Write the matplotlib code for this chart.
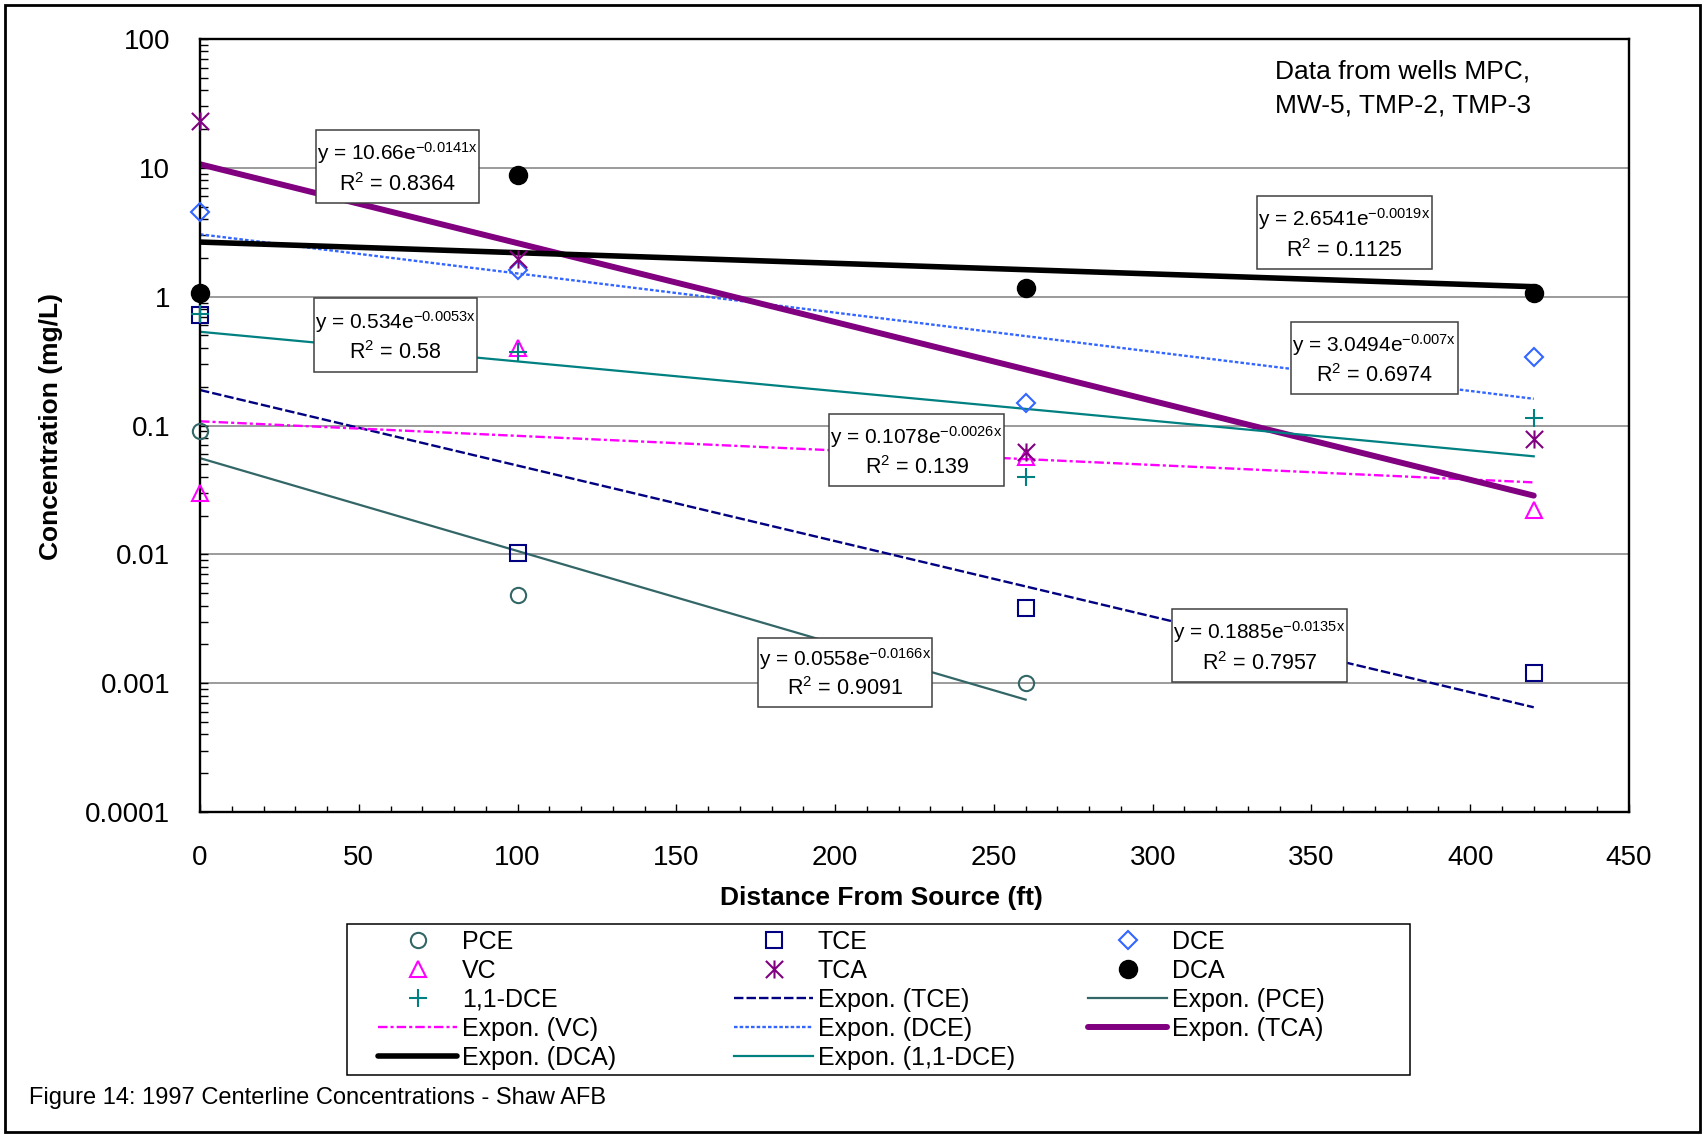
import numpy as np
import matplotlib
matplotlib.use("Agg")
import matplotlib.pyplot as plt
from matplotlib.path import Path
from matplotlib.patches import Rectangle
from matplotlib.ticker import MultipleLocator, LogLocator, NullFormatter

plt.rcParams['font.family'] = ['Liberation Sans', 'DejaVu Sans']
plt.rcParams['mathtext.fontset'] = 'custom'
plt.rcParams['mathtext.rm'] = 'Liberation Sans'
plt.rcParams['mathtext.it'] = 'Liberation Sans:italic'

# distance from source (ft)
dist = [0, 100, 260, 420]
dist_pce = [0, 100, 260]

# concentrations (mg/L)
pce = [0.09, 0.0048, 0.001]
tce = [0.72, 0.0103, 0.0038, 0.0012]
dce = [4.56, 1.6, 0.15, 0.34]
vc = [0.030, 0.40, 0.057, 0.022]
tca = [23.2, 1.95, 0.062, 0.078]
dca = [1.06, 8.8, 1.17, 1.06]
dce11 = [0.73, 0.37, 0.040, 0.115]

# exponential trendlines y = a*exp(b*x), as printed on the chart
trend_names = ['TCE', 'PCE', 'VC', 'DCE', 'TCA', 'DCA', '1,1-DCE']
trend_a = [0.1885, 0.0558, 0.1078, 3.0494, 10.66, 2.6541, 0.534]
trend_b = [-0.0135, -0.0166, -0.0026, -0.007, -0.0141, -0.0019, -0.0053]
trend_r2 = [0.7957, 0.9091, 0.139, 0.6974, 0.8364, 0.1125, 0.58]

ytick_vals = [0.0001, 0.001, 0.01, 0.1, 1, 10, 100]
ytick_labels = ['0.0001', '0.001', '0.01', '0.1', '1', '10', '100']

W, H = 1705, 1135


def fx(x):
    return x / W


def fy(y):
    return 1 - y / H


fig = plt.figure(figsize=(W / 100, H / 100), dpi=100)
ax = fig.add_axes([fx(200), fy(812), (1629 - 200) / W, (812 - 39) / H])

star = Path([(-1, -1), (1, 1), (-1, 1), (1, -1), (0, -1.05), (0, 1.05)],
            [Path.MOVETO, Path.LINETO, Path.MOVETO, Path.LINETO, Path.MOVETO, Path.LINETO])

pts = {}
pts['PCE'] = ax.plot(dist_pce, pce, ls='none', marker='o', ms=11, mfc='none', mec='#336666', mew=1.5,
                     clip_on=False, zorder=3, label='PCE')[0]
pts['TCE'] = ax.plot(dist, tce, ls='none', marker='s', ms=11, mfc='none', mec='#000080', mew=1.5,
                     clip_on=False, zorder=3, label='TCE')[0]
pts['DCE'] = ax.plot(dist, dce, ls='none', marker='D', ms=9.5, mfc='none', mec='#3366FF', mew=1.5,
                     clip_on=False, zorder=3, label='DCE')[0]
pts['VC'] = ax.plot(dist, vc, ls='none', marker='^', ms=12, mfc='none', mec='#FF00FF', mew=1.5,
                    clip_on=False, zorder=3, label='VC')[0]
pts['TCA'] = ax.plot(dist, tca, ls='none', marker=star, ms=13, mfc='none', mec='#800080', mew=1.5,
                     clip_on=False, zorder=3, label='TCA')[0]
pts['DCA'] = ax.plot(dist, dca, ls='none', marker='o', ms=13, mfc='black', mec='black',
                     clip_on=False, zorder=3, label='DCA')[0]
pts['1,1-DCE'] = ax.plot(dist, dce11, ls='none', marker='+', ms=13, mec='#008080', mew=1.5,
                         clip_on=False, zorder=3, label='1,1-DCE')[0]

line_styles = {
    'TCE': dict(color='#000080', lw=1.7, dashes=(4, 1.3)),
    'PCE': dict(color='#336666', lw=1.6),
    'VC': dict(color='#FF00FF', lw=1.7, dashes=(4, 1.3, 1.3, 1.3)),
    'DCE': dict(color='#3366FF', lw=1.7, dashes=(1.5, 0.9)),
    'TCA': dict(color='#800080', lw=4.3, solid_capstyle='round'),
    'DCA': dict(color='black', lw=4.0, solid_capstyle='round'),
    '1,1-DCE': dict(color='#008080', lw=1.6),
}
x_ranges = {'PCE': dist_pce}

trends = {}
for name, a, b in zip(trend_names, trend_a, trend_b):
    xr = x_ranges.get(name, dist)
    xs = np.linspace(min(xr), max(xr), 60)
    trends[name] = ax.plot(xs, a * np.exp(b * xs), zorder=2, label='Expon. (%s)' % name,
                           **line_styles[name])[0]

ax.set_xlim(0, 450)
ax.set_yscale('log')
ax.set_ylim(1e-4, 100)
ax.xaxis.set_major_locator(MultipleLocator(50))
ax.xaxis.set_minor_locator(MultipleLocator(10))
ax.set_yticks(ytick_vals)
ax.set_yticklabels(ytick_labels)
ax.yaxis.set_minor_locator(LogLocator(base=10, subs=np.arange(2, 10)))
ax.yaxis.set_minor_formatter(NullFormatter())
ax.tick_params(which='both', direction='in', top=False, right=False, width=1, labelsize=20)
ax.tick_params(axis='x', which='major', length=6, pad=24)
ax.tick_params(axis='x', which='minor', length=4.3)
ax.tick_params(axis='y', which='both', length=5.8, pad=21.5)
ax.yaxis.grid(True, which='major', color='#808080', lw=1.1)
ax.set_axisbelow(True)
for s in ax.spines.values():
    s.set_linewidth(1.7)

fig.text(fx(881), fy(898), 'Distance From Source (ft)', fontsize=19, fontweight='bold',
         ha='center', va='center')
fig.text(fx(51), fy(426), 'Concentration (mg/L)', fontsize=19, fontweight='bold',
         ha='center', va='center', rotation=90)
fig.text(fx(1403), fy(72), 'Data from wells MPC,', fontsize=19, ha='center', va='center')
fig.text(fx(1403), fy(105), 'MW-5, TMP-2, TMP-3', fontsize=19, ha='center', va='center')
fig.text(fx(29), fy(1098), 'Figure 14: 1997 Centerline Concentrations - Shaw AFB', fontsize=17,
         ha='left', va='center')

# equation boxes (pixel boxes: x0, y0, x1, y1)
box_px = {
    'TCA': (316, 130, 479, 203),
    '1,1-DCE': (314, 298, 477, 372),
    'VC': (829, 414, 1004, 486),
    'PCE': (758, 638, 932, 707),
    'TCE': (1172, 609, 1347, 682),
    'DCA': (1257, 196, 1432, 269),
    'DCE': (1291, 322, 1458, 394),
}
for name, a, b, r2 in zip(trend_names, trend_a, trend_b, trend_r2):
    x0, y0, x1, y1 = box_px[name]
    fig.add_artist(Rectangle((fx(x0), fy(y1)), (x1 - x0) / W, (y1 - y0) / H,
                             transform=fig.transFigure, fc='white', ec='#404040', lw=1.1, zorder=5))
    cx = fx((x0 + x1) / 2)
    h = y1 - y0
    fig.text(cx, fy(y0 + 0.41 * h), r'y = %se$^{\mathregular{%sx}}$' % (a, b), fontsize=15,
             ha='center', va='baseline', zorder=6)
    fig.text(cx, fy(y0 + 0.83 * h), r'R$^{\mathregular{2}}$ = %s' % r2, fontsize=15.5,
             ha='center', va='baseline', zorder=6)

# legend, filled row by row like the original
cols = [
    [pts['PCE'], pts['VC'], pts['1,1-DCE'], trends['VC'], trends['DCA']],
    [pts['TCE'], pts['TCA'], trends['TCE'], trends['DCE'], trends['1,1-DCE']],
    [pts['DCE'], pts['DCA'], trends['PCE'], trends['TCA']],
]
for handles, left in zip(cols, [378, 734, 1088]):
    fig.legend(handles=handles, labels=[hd.get_label() for hd in handles], loc='upper left',
               bbox_to_anchor=(fx(left), fy(930)), frameon=False, fontsize=18,
               handlelength=3.16, handletextpad=0.2, labelspacing=0.2, borderpad=0,
               borderaxespad=0, markerscale=1.0)
fig.add_artist(Rectangle((fx(347), fy(1075)), (1410 - 347) / W, (1075 - 924) / H,
                         transform=fig.transFigure, fc='none', ec='black', lw=1.1, zorder=4))

# outer border
fig.add_artist(Rectangle((fx(5), fy(1132)), (1700 - 5) / W, (1132 - 5) / H,
                         transform=fig.transFigure, fc='none', ec='black', lw=2, zorder=4))

fig.savefig('out.png', dpi=100)
